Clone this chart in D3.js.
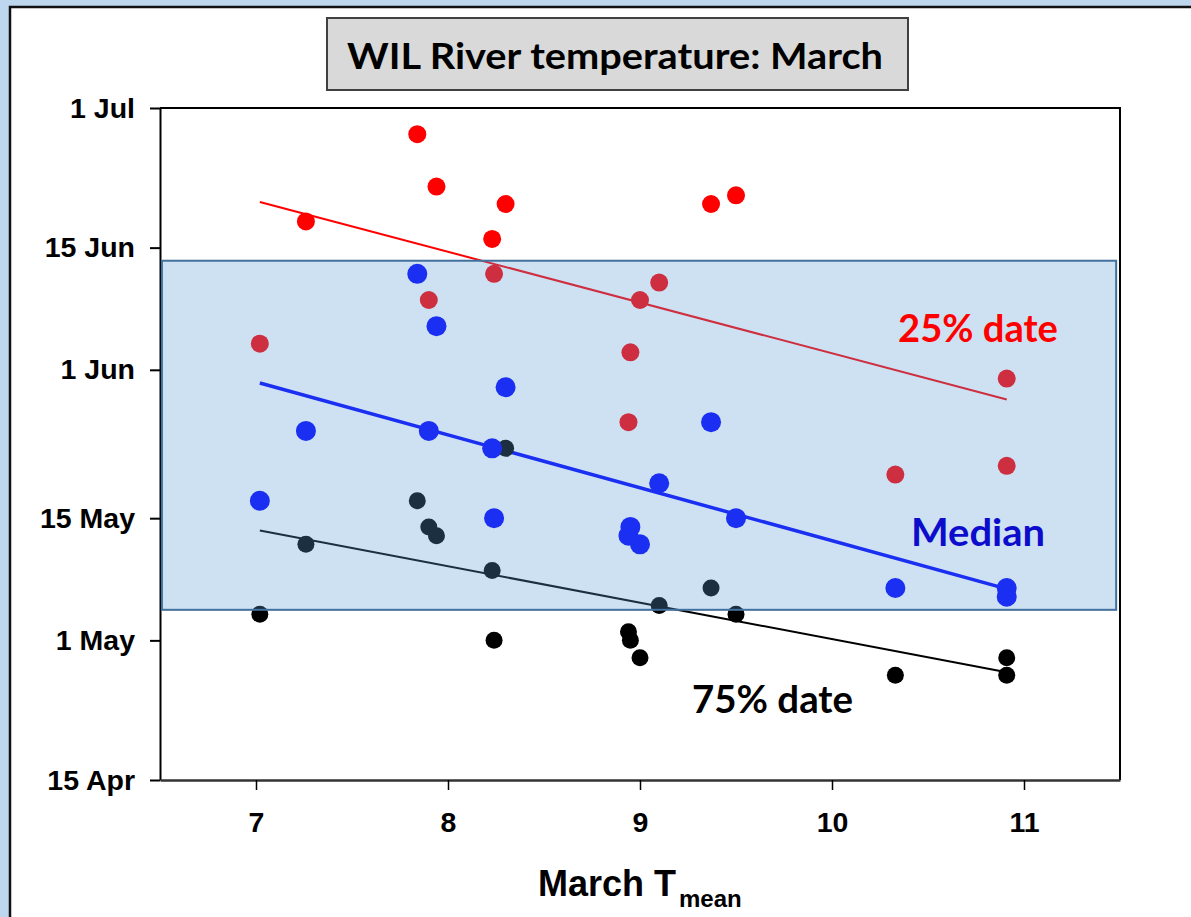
<!DOCTYPE html>
<html>
<head>
<meta charset="utf-8">
<script src="https://cdn.jsdelivr.net/npm/d3@7"></script>
<style>
	body { margin: 0; background: #bdd7ee; }
	svg { display: block; }
</style>
</head>
<body>
<svg id="chart" width="1191" height="917"></svg>
<script>
/* March mean temperature for each year */
var marchTemp = [7.02, 7.26, 7.84, 7.90, 7.94, 8.23, 8.24, 8.30, 8.94, 8.95, 9.00, 9.10, 9.37, 9.50, 10.33, 10.91, 10.91];

/* dates (month-day) reached by 25%, 50% and 75% of the run */
var date25 = ["06-04", "06-18", "06-28", "06-09", "06-22", "06-16", "06-12", "06-20", "05-26", "06-03", "06-09", "06-11", "06-20", "06-21", "05-20", "05-31", "05-21"];
var dateMedian = ["05-17", "05-25", "06-12", "05-25", "06-06", "05-23", "05-15", "05-30", "05-13", "05-14", "05-12", "05-19", "05-26", "05-15", "05-07", "05-07", "05-06"];
var date75 = ["05-04", "05-12", "05-17", "05-14", "05-13", "05-09", "05-01", "05-23", "05-02", "05-01", "04-29", "05-05", "05-07", "05-04", "04-27", "04-29", "04-27"];

var xTicks = [7, 8, 9, 10, 11];
var yTicks = ["04-15", "05-01", "05-15", "06-01", "06-15", "07-01"];

/* shaded range */
var bandTemp = [6.51, 11.48];
var bandDates = ["05-04 12", "06-13 12"];

var parseDay = d3.timeParse("%m-%d");
var parseDayHour = d3.timeParse("%m-%d %H");

var svg = d3.select("#chart");

/* white panel */
svg.append("rect")
	.attr("x", 10)
	.attr("y", 7)
	.attr("width", 1400)
	.attr("height", 1100)
	.attr("fill", "#fff")
	.attr("stroke", "#111")
	.attr("stroke-width", 2.5);

/* title box */
svg.append("rect")
	.attr("x", 327)
	.attr("y", 18)
	.attr("width", 581)
	.attr("height", 72)
	.attr("fill", "#d9d9d9")
	.attr("stroke", "#404040")
	.attr("stroke-width", 2);

svg.append("text")
	.attr("x", 347)
	.attr("y", 69)
	.attr("textLength", 536)
	.attr("lengthAdjust", "spacingAndGlyphs")
	.style("font-family", "Lato, 'Open Sans', sans-serif")
	.style("font-weight", "bold")
	.style("font-size", "37px")
	.attr("fill", "#000")
	.text("WIL River temperature: March");

var plotLeft = 160, plotRight = 1120, plotTop = 108, plotBottom = 780;

var x = d3.scaleLinear()
	.domain([6.5, 11.5])
	.range([plotLeft, plotRight]);

var y = d3.scaleTime()
	.domain([parseDay("04-15"), parseDay("07-01")])
	.range([plotBottom, plotTop]);

/* frame: top and right */
svg.append("path")
	.attr("d", "M" + plotLeft + "," + plotTop + "H" + plotRight + "V" + plotBottom)
	.attr("fill", "none")
	.attr("stroke", "#000")
	.attr("stroke-width", 2);

var yAxis = svg.append("g")
	.attr("transform", "translate(" + plotLeft + ",0)")
	.call(d3.axisLeft(y)
		.tickValues(yTicks.map(parseDay))
		.tickFormat(d3.timeFormat("%-d %b"))
		.tickSize(10)
		.tickSizeOuter(0)
		.tickPadding(15));

var xAxis = svg.append("g")
	.attr("transform", "translate(0," + plotBottom + ")")
	.call(d3.axisBottom(x)
		.tickValues(xTicks)
		.tickFormat(d3.format("d"))
		.tickSize(10)
		.tickSizeOuter(0)
		.tickPadding(22));

svg.selectAll(".tick text")
	.style("font-family", "'Liberation Sans', Arial, sans-serif")
	.style("font-weight", "bold")
	.style("font-size", "28.5px")
	.attr("fill", "#000");

yAxis.selectAll("line, path").attr("stroke", "#000").attr("stroke-width", 2);
xAxis.selectAll("line").attr("stroke", "#000").attr("stroke-width", 1.5);
xAxis.select("path").attr("stroke", "#333").attr("stroke-width", 2.5);

/* x axis title */
var xTitle = svg.append("text")
	.attr("x", 538)
	.attr("y", 896)
	.style("font-family", "'Liberation Sans', Arial, sans-serif")
	.style("font-weight", "bold")
	.style("font-size", "36px")
	.attr("fill", "#000")
	.text("March T");

xTitle.append("tspan")
	.attr("dx", 3)
	.attr("dy", 11)
	.style("font-size", "24px")
	.text("mean");

/* least squares line through the points */
var fitLine = function(xs, ds) {
	var ys = ds.map(function(d) { return +parseDay(d); });
	var mx = d3.mean(xs), my = d3.mean(ys);
	var sxy = 0, sxx = 0;
	for (var i = 0; i < xs.length; i++) {
		sxy += (xs[i] - mx) * (ys[i] - my);
		sxx += (xs[i] - mx) * (xs[i] - mx);
	}
	var b = sxy / sxx;
	var ext = d3.extent(xs);
	return ext.map(function(t) { return [t, new Date(my + b * (t - mx))]; });
};

var series = [
	{ dates: date75, color: "#000", r: 8.5, lw: 2 },
	{ dates: date25, color: "#ff0000", r: 9, lw: 2 },
	{ dates: dateMedian, color: "#0000ff", r: 10, lw: 3.5 }
];

var line = d3.line()
	.x(function(d) { return x(d[0]); })
	.y(function(d) { return y(d[1]); });

series.forEach(function(s) {
	svg.append("path")
		.datum(fitLine(marchTemp, s.dates))
		.attr("d", line)
		.attr("fill", "none")
		.attr("stroke", s.color)
		.attr("stroke-width", s.lw);
});

series.forEach(function(s) {
	svg.append("g")
		.selectAll("circle")
		.data(s.dates)
		.enter()
		.append("circle")
		.attr("cx", function(d, i) { return x(marchTemp[i]); })
		.attr("cy", function(d) { return y(parseDay(d)); })
		.attr("r", s.r)
		.attr("fill", s.color);
});

/* translucent band on top of the points */
svg.append("rect")
	.attr("x", x(bandTemp[0]))
	.attr("y", y(parseDayHour(bandDates[1])))
	.attr("width", x(bandTemp[1]) - x(bandTemp[0]))
	.attr("height", y(parseDayHour(bandDates[0])) - y(parseDayHour(bandDates[1])))
	.attr("fill", "rgba(91,155,213,0.3)")
	.attr("stroke", "#41719c")
	.attr("stroke-width", 2);

/* series labels */
var labelFont = "Lato, 'Open Sans', sans-serif";
[
	{ text: "25% date", px: 898, py: 342, w: 160, color: "#ff0000" },
	{ text: "Median", px: 911, py: 546, w: 134, color: "#0c0ccc" },
	{ text: "75% date", px: 692, py: 713, w: 161, color: "#000" }
].forEach(function(l) {
	svg.append("text")
		.attr("x", l.px)
		.attr("y", l.py)
		.attr("textLength", l.w)
		.attr("lengthAdjust", "spacingAndGlyphs")
		.style("font-family", labelFont)
		.style("font-weight", "bold")
		.style("font-size", "38px")
		.attr("fill", l.color)
		.text(l.text);
});
</script>
</body>
</html>
